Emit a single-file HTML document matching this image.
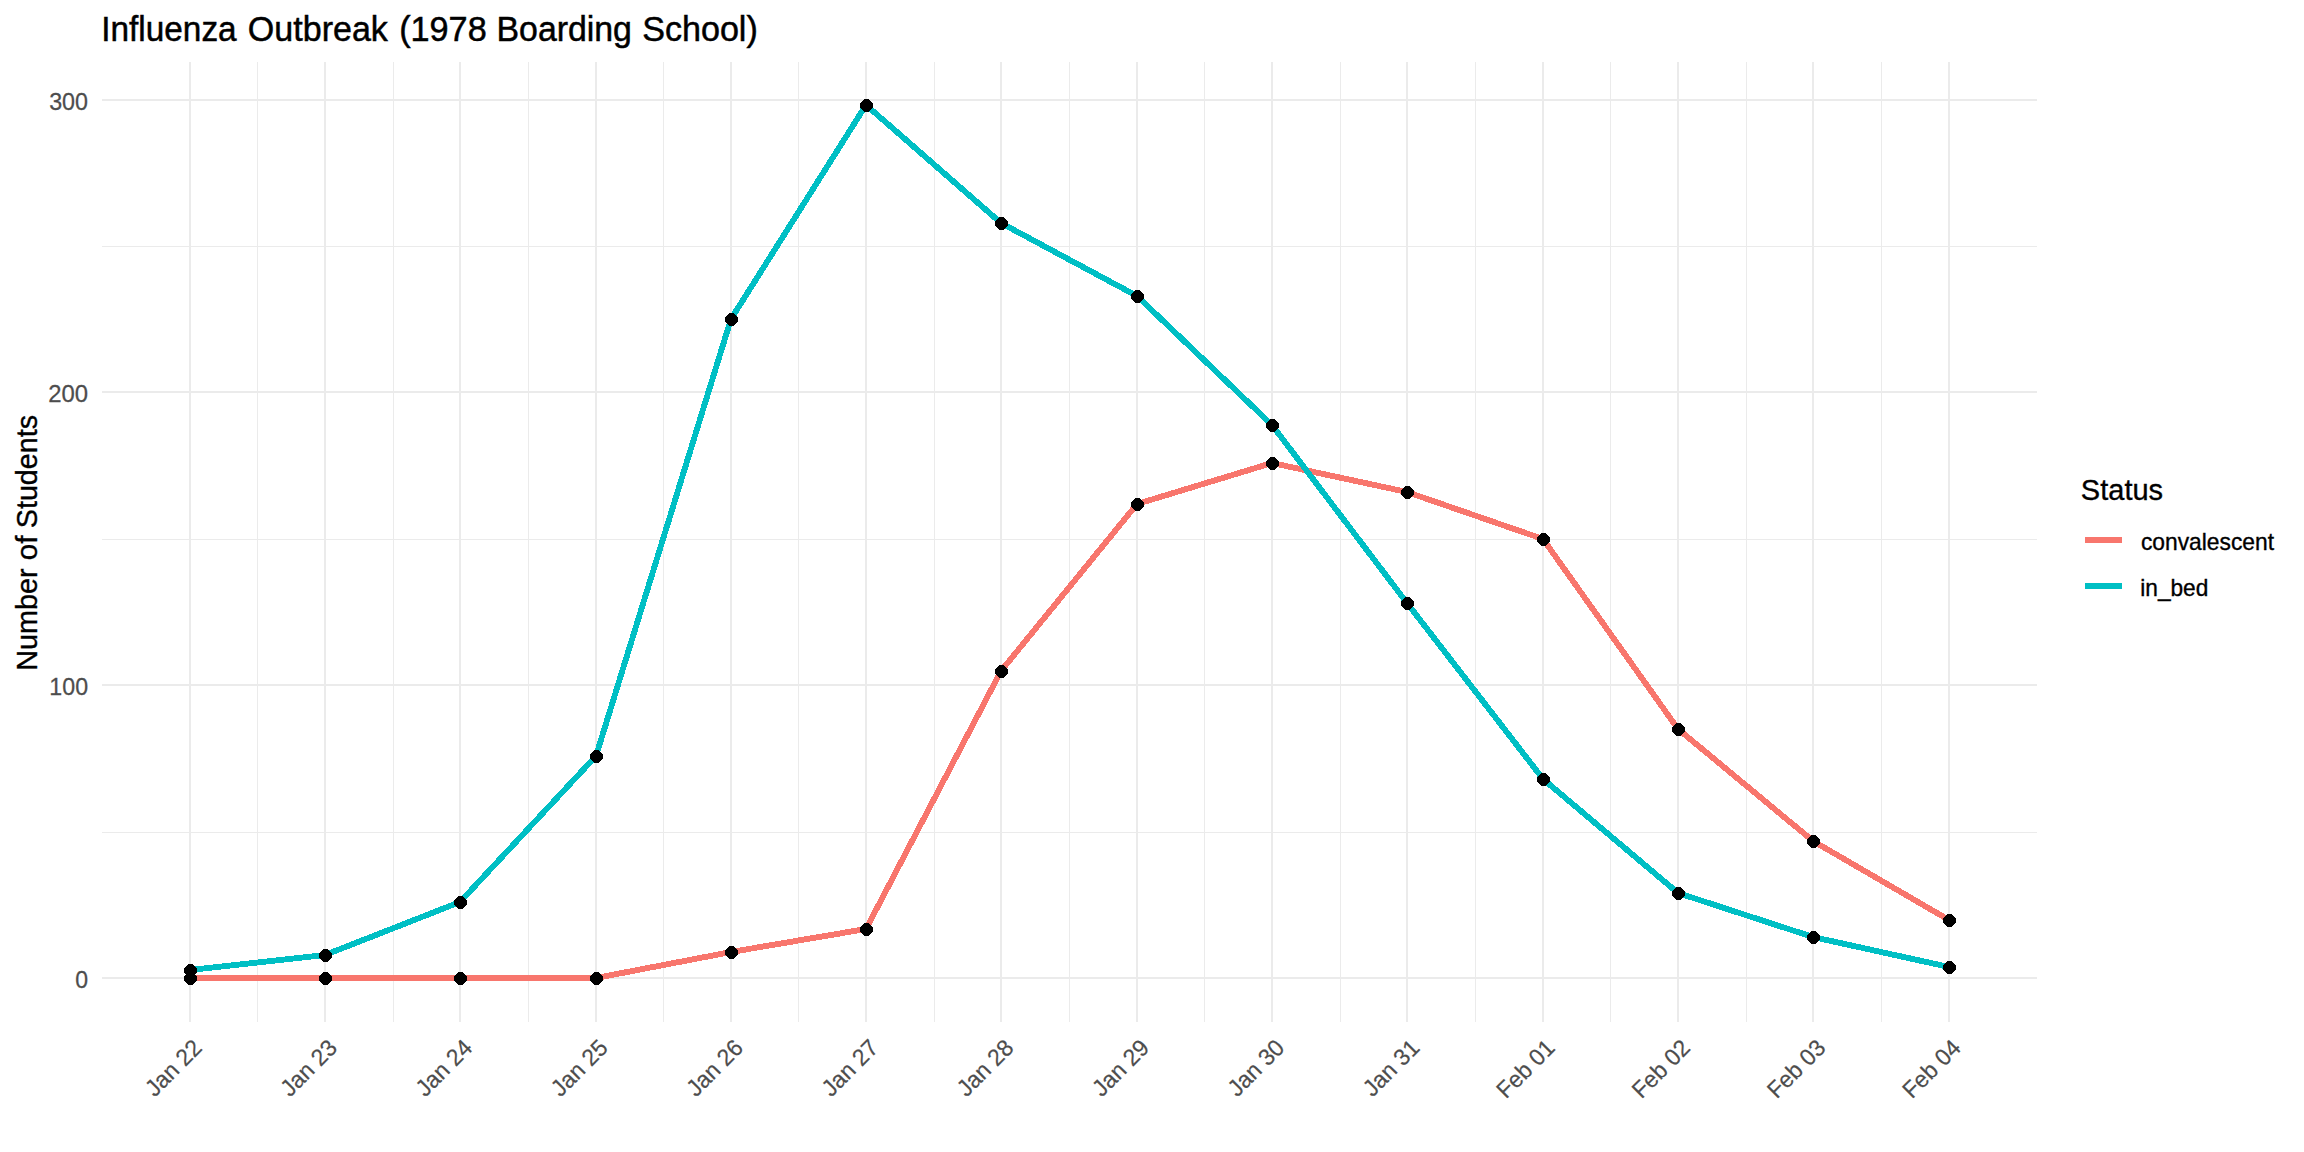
<!DOCTYPE html>
<html lang="en"><head><meta charset="utf-8"><title>Influenza Outbreak (1978 Boarding School)</title>
<style>html,body{margin:0;padding:0;background:#fff}body{width:2304px;height:1152px;overflow:hidden}svg{display:block}</style></head>
<body>
<svg width="2304" height="1152" viewBox="0 0 2304 1152" font-family="'Liberation Sans', Arial, sans-serif">
<rect width="2304" height="1152" fill="#fff"/>
<g fill="#EBEBEB" shape-rendering="crispEdges">
<rect x="102" y="832" width="1935" height="1"/>
<rect x="102" y="539" width="1935" height="1"/>
<rect x="102" y="246" width="1935" height="1"/>
<rect x="257" y="62" width="1" height="960"/>
<rect x="393" y="62" width="1" height="960"/>
<rect x="528" y="62" width="1" height="960"/>
<rect x="663" y="62" width="1" height="960"/>
<rect x="798" y="62" width="1" height="960"/>
<rect x="934" y="62" width="1" height="960"/>
<rect x="1069" y="62" width="1" height="960"/>
<rect x="1204" y="62" width="1" height="960"/>
<rect x="1340" y="62" width="1" height="960"/>
<rect x="1475" y="62" width="1" height="960"/>
<rect x="1610" y="62" width="1" height="960"/>
<rect x="1746" y="62" width="1" height="960"/>
<rect x="1881" y="62" width="1" height="960"/>
</g>
<g fill="#EBEBEB" shape-rendering="crispEdges">
<rect x="102" y="977" width="1935" height="2"/>
<rect x="102" y="684" width="1935" height="2"/>
<rect x="102" y="391" width="1935" height="2"/>
<rect x="102" y="99" width="1935" height="2"/>
<rect x="189" y="62" width="2" height="960"/>
<rect x="324" y="62" width="2" height="960"/>
<rect x="459" y="62" width="2" height="960"/>
<rect x="595" y="62" width="2" height="960"/>
<rect x="730" y="62" width="2" height="960"/>
<rect x="865" y="62" width="2" height="960"/>
<rect x="1000" y="62" width="2" height="960"/>
<rect x="1136" y="62" width="2" height="960"/>
<rect x="1271" y="62" width="2" height="960"/>
<rect x="1406" y="62" width="2" height="960"/>
<rect x="1542" y="62" width="2" height="960"/>
<rect x="1677" y="62" width="2" height="960"/>
<rect x="1812" y="62" width="2" height="960"/>
<rect x="1948" y="62" width="2" height="960"/>
</g>
<polyline points="190,978 325,978 460,978 596,978 731,952 866,929 1001,671 1137,504 1272,463 1407,492 1543,539 1678,729 1813,841 1949,920" fill="none" stroke="#F8766D" stroke-width="5.9" stroke-linejoin="round" stroke-linecap="butt" shape-rendering="crispEdges"/>
<polyline points="190,970 325,955 460,902 596,756 731,319 866,105 1001,223 1137,296 1272,425 1407,603 1543,779 1678,893 1813,937 1949,967" fill="none" stroke="#00BFC4" stroke-width="5.9" stroke-linejoin="round" stroke-linecap="butt" shape-rendering="crispEdges"/>
<g fill="#000" shape-rendering="crispEdges">
<polygon points="188.5,972 192.5,972 197,976.5 197,980.5 192.5,985 188.5,985 184,980.5 184,976.5"/>
<polygon points="323.5,972 327.5,972 332,976.5 332,980.5 327.5,985 323.5,985 319,980.5 319,976.5"/>
<polygon points="458.5,972 462.5,972 467,976.5 467,980.5 462.5,985 458.5,985 454,980.5 454,976.5"/>
<polygon points="594.5,972 598.5,972 603,976.5 603,980.5 598.5,985 594.5,985 590,980.5 590,976.5"/>
<polygon points="729.5,946 733.5,946 738,950.5 738,954.5 733.5,959 729.5,959 725,954.5 725,950.5"/>
<polygon points="864.5,923 868.5,923 873,927.5 873,931.5 868.5,936 864.5,936 860,931.5 860,927.5"/>
<polygon points="999.5,665 1003.5,665 1008,669.5 1008,673.5 1003.5,678 999.5,678 995,673.5 995,669.5"/>
<polygon points="1135.5,498 1139.5,498 1144,502.5 1144,506.5 1139.5,511 1135.5,511 1131,506.5 1131,502.5"/>
<polygon points="1270.5,457 1274.5,457 1279,461.5 1279,465.5 1274.5,470 1270.5,470 1266,465.5 1266,461.5"/>
<polygon points="1405.5,486 1409.5,486 1414,490.5 1414,494.5 1409.5,499 1405.5,499 1401,494.5 1401,490.5"/>
<polygon points="1541.5,533 1545.5,533 1550,537.5 1550,541.5 1545.5,546 1541.5,546 1537,541.5 1537,537.5"/>
<polygon points="1676.5,723 1680.5,723 1685,727.5 1685,731.5 1680.5,736 1676.5,736 1672,731.5 1672,727.5"/>
<polygon points="1811.5,835 1815.5,835 1820,839.5 1820,843.5 1815.5,848 1811.5,848 1807,843.5 1807,839.5"/>
<polygon points="1947.5,914 1951.5,914 1956,918.5 1956,922.5 1951.5,927 1947.5,927 1943,922.5 1943,918.5"/>
<polygon points="188.5,964 192.5,964 197,968.5 197,972.5 192.5,977 188.5,977 184,972.5 184,968.5"/>
<polygon points="323.5,949 327.5,949 332,953.5 332,957.5 327.5,962 323.5,962 319,957.5 319,953.5"/>
<polygon points="458.5,896 462.5,896 467,900.5 467,904.5 462.5,909 458.5,909 454,904.5 454,900.5"/>
<polygon points="594.5,750 598.5,750 603,754.5 603,758.5 598.5,763 594.5,763 590,758.5 590,754.5"/>
<polygon points="729.5,313 733.5,313 738,317.5 738,321.5 733.5,326 729.5,326 725,321.5 725,317.5"/>
<polygon points="864.5,99 868.5,99 873,103.5 873,107.5 868.5,112 864.5,112 860,107.5 860,103.5"/>
<polygon points="999.5,217 1003.5,217 1008,221.5 1008,225.5 1003.5,230 999.5,230 995,225.5 995,221.5"/>
<polygon points="1135.5,290 1139.5,290 1144,294.5 1144,298.5 1139.5,303 1135.5,303 1131,298.5 1131,294.5"/>
<polygon points="1270.5,419 1274.5,419 1279,423.5 1279,427.5 1274.5,432 1270.5,432 1266,427.5 1266,423.5"/>
<polygon points="1405.5,597 1409.5,597 1414,601.5 1414,605.5 1409.5,610 1405.5,610 1401,605.5 1401,601.5"/>
<polygon points="1541.5,773 1545.5,773 1550,777.5 1550,781.5 1545.5,786 1541.5,786 1537,781.5 1537,777.5"/>
<polygon points="1676.5,887 1680.5,887 1685,891.5 1685,895.5 1680.5,900 1676.5,900 1672,895.5 1672,891.5"/>
<polygon points="1811.5,931 1815.5,931 1820,935.5 1820,939.5 1815.5,944 1811.5,944 1807,939.5 1807,935.5"/>
<polygon points="1947.5,961 1951.5,961 1956,965.5 1956,969.5 1951.5,974 1947.5,974 1943,969.5 1943,965.5"/>
</g>
<text transform="scale(1,1.015)" y="40.59" font-size="35.2" fill="#000" stroke="#000" stroke-width="0.5"><tspan x="101.26" textLength="135.37" lengthAdjust="spacingAndGlyphs">Influenza</tspan> <tspan x="247.85" textLength="140.07" lengthAdjust="spacingAndGlyphs">Outbreak</tspan> <tspan x="399.15" textLength="87.56" lengthAdjust="spacingAndGlyphs">(1978</tspan> <tspan x="496.56" textLength="135.37" lengthAdjust="spacingAndGlyphs">Boarding</tspan> <tspan x="642.19" textLength="115.61" lengthAdjust="spacingAndGlyphs">School)</tspan></text>
<text transform="translate(49.15,110) scale(0.9934,1.03)" font-size="23.47" fill="#4D4D4D" stroke="#4D4D4D" stroke-width="0.25">300</text>
<text transform="translate(48.18,402) scale(1.0187,1.03)" font-size="23.47" fill="#4D4D4D" stroke="#4D4D4D" stroke-width="0.25">200</text>
<text transform="translate(49.32,694.9) scale(0.9892,1.03)" font-size="23.47" fill="#4D4D4D" stroke="#4D4D4D" stroke-width="0.25">100</text>
<text transform="translate(75.36,988) scale(0.9826,1.03)" font-size="23.47" fill="#4D4D4D" stroke="#4D4D4D" stroke-width="0.25">0</text>
<text transform="translate(37.3,700) rotate(-90) scale(1,1.0)" y="0" font-size="29.33" fill="#000" stroke="#000" stroke-width="0.35"><tspan x="29.19" textLength="102.52" lengthAdjust="spacingAndGlyphs">Number</tspan> <tspan x="139.79" textLength="24.62" lengthAdjust="spacingAndGlyphs">of</tspan> <tspan x="171.78" textLength="113.38" lengthAdjust="spacingAndGlyphs">Students</tspan></text>
<text transform="translate(2080.86,500) scale(0.9889,1.02)" font-size="29.33" fill="#000" stroke="#000" stroke-width="0.35">Status</text>
<rect x="2085" y="537" width="37" height="6" fill="#F8766D"/>
<rect x="2085" y="583" width="37" height="6" fill="#00BFC4"/>
<text transform="translate(2140.97,549.9) scale(0.9717,0.98)" font-size="23.47" fill="#000" stroke="#000" stroke-width="0.35">convalescent</text>
<text transform="translate(2140.25,595.9) scale(0.9668,0.98)" font-size="23.47" fill="#000" stroke="#000" stroke-width="0.35">in_bed</text>
<text transform="translate(203.2,1049.3) rotate(-45) scale(0.9750,1.0)" font-size="23.47" fill="#4D4D4D" stroke="#4D4D4D" stroke-width="0.2" text-anchor="end">Jan 22</text>
<text transform="translate(338.51,1049.3) rotate(-45) scale(0.9750,1.0)" font-size="23.47" fill="#4D4D4D" stroke="#4D4D4D" stroke-width="0.2" text-anchor="end">Jan 23</text>
<text transform="translate(473.82,1049.3) rotate(-45) scale(0.9750,1.0)" font-size="23.47" fill="#4D4D4D" stroke="#4D4D4D" stroke-width="0.2" text-anchor="end">Jan 24</text>
<text transform="translate(609.13,1049.3) rotate(-45) scale(0.9750,1.0)" font-size="23.47" fill="#4D4D4D" stroke="#4D4D4D" stroke-width="0.2" text-anchor="end">Jan 25</text>
<text transform="translate(744.44,1049.3) rotate(-45) scale(0.9750,1.0)" font-size="23.47" fill="#4D4D4D" stroke="#4D4D4D" stroke-width="0.2" text-anchor="end">Jan 26</text>
<text transform="translate(879.75,1049.3) rotate(-45) scale(0.9750,1.0)" font-size="23.47" fill="#4D4D4D" stroke="#4D4D4D" stroke-width="0.2" text-anchor="end">Jan 27</text>
<text transform="translate(1015.06,1049.3) rotate(-45) scale(0.9750,1.0)" font-size="23.47" fill="#4D4D4D" stroke="#4D4D4D" stroke-width="0.2" text-anchor="end">Jan 28</text>
<text transform="translate(1150.37,1049.3) rotate(-45) scale(0.9750,1.0)" font-size="23.47" fill="#4D4D4D" stroke="#4D4D4D" stroke-width="0.2" text-anchor="end">Jan 29</text>
<text transform="translate(1285.68,1049.3) rotate(-45) scale(0.9750,1.0)" font-size="23.47" fill="#4D4D4D" stroke="#4D4D4D" stroke-width="0.2" text-anchor="end">Jan 30</text>
<text transform="translate(1420.99,1049.3) rotate(-45) scale(0.9750,1.0)" font-size="23.47" fill="#4D4D4D" stroke="#4D4D4D" stroke-width="0.2" text-anchor="end">Jan 31</text>
<text transform="translate(1556.25,1049.3) rotate(-45) scale(0.9720,1.0)" font-size="23.47" fill="#4D4D4D" stroke="#4D4D4D" stroke-width="0.2" text-anchor="end">Feb 01</text>
<text transform="translate(1691.56,1049.3) rotate(-45) scale(0.9720,1.0)" font-size="23.47" fill="#4D4D4D" stroke="#4D4D4D" stroke-width="0.2" text-anchor="end">Feb 02</text>
<text transform="translate(1826.87,1049.3) rotate(-45) scale(0.9720,1.0)" font-size="23.47" fill="#4D4D4D" stroke="#4D4D4D" stroke-width="0.2" text-anchor="end">Feb 03</text>
<text transform="translate(1962.18,1049.3) rotate(-45) scale(0.9720,1.0)" font-size="23.47" fill="#4D4D4D" stroke="#4D4D4D" stroke-width="0.2" text-anchor="end">Feb 04</text>
</svg>
</body></html>
